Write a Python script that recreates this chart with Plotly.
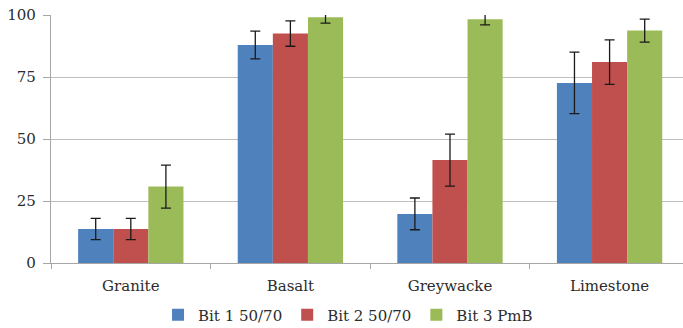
import plotly.graph_objects as go

categories = ["Granite", "Basalt", "Greywacke", "Limestone"]
series_names = ["Bit 1 50/70", "Bit 2 50/70", "Bit 3 PmB"]
bit1 = [13.7, 87.9, 19.8, 72.6]
bit1_err = [4.3, 5.6, 6.4, 12.4]
bit2 = [13.7, 92.5, 41.5, 81.0]
bit2_err = [4.3, 5.1, 10.5, 9.0]
bit3 = [30.8, 99.1, 98.3, 93.7]
bit3_err = [8.7, 2.4, 2.3, 4.6]
colors = ["#4F81BD", "#C0504D", "#9BBB59"]
y_ticks = [0, 25, 50, 75, 100]

fig = go.Figure()
for name, vals, errs, col in zip(series_names, [bit1, bit2, bit3], [bit1_err, bit2_err, bit3_err], colors):
    fig.add_trace(go.Bar(
        x=categories, y=vals, name=name, marker_color=col, marker_line_width=0,
        cliponaxis=False,
        error_y=dict(type="data", array=errs, visible=True, color="#1a1a1a", thickness=1.3, width=5),
    ))

font = dict(family="DejaVu Serif", size=15, color="#2b2b2b")
fig.update_layout(
    width=683, height=328,
    margin=dict(l=51, r=0, t=15, b=65, autoexpand=False),
    paper_bgcolor="white", plot_bgcolor="white",
    font=font,
    barmode="group", bargap=0.34, bargroupgap=0,
    showlegend=True,
    legend=dict(orientation="h", x=0.47, xanchor="center", y=-0.21, yanchor="middle",
                font=font, itemwidth=30, traceorder="normal", tracegroupgap=0),
    xaxis=dict(range=[-0.5, 3.46], tickson="boundaries", ticks="outside", ticklen=5,
               tickcolor="#A6A6A6", showline=True, linecolor="#A6A6A6", linewidth=1.3,
               showgrid=False, tickfont=font, ticklabelstandoff=9, automargin=False),
    yaxis=dict(range=[0, 100], tickvals=y_ticks, ticks="outside", ticklen=7,
               tickcolor="#A6A6A6", showline=True, linecolor="#A6A6A6", linewidth=1.3,
               showgrid=True, gridcolor="#BFBFBF", gridwidth=1.3, zeroline=False,
               tickfont=font, ticklabelstandoff=4, automargin=False),
)
fig.write_html("out.html")
